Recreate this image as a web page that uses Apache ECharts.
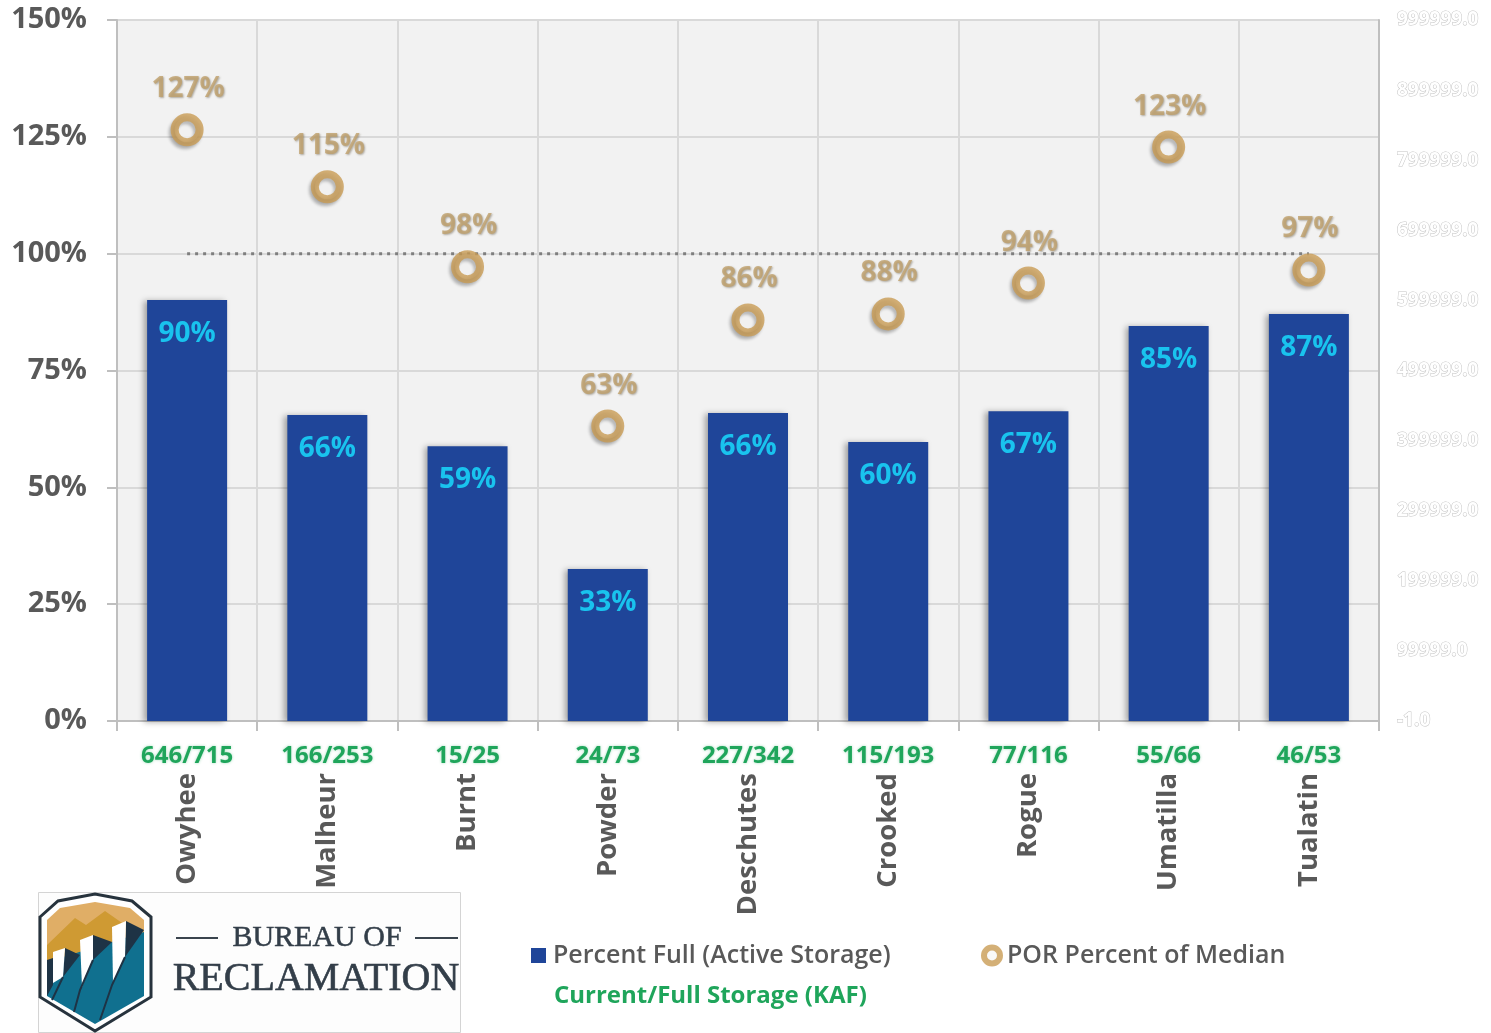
<!DOCTYPE html>
<html>
<head>
<meta charset="utf-8">
<title>Reservoir storage</title>
<script src="https://cdn.jsdelivr.net/npm/echarts@6/dist/echarts.min.js"></script>
<style>
  html, body { margin: 0; padding: 0; background: #fff; }
  #chart { width: 1491px; height: 1033px; }
</style>
</head>
<body>
<div id="chart"></div>
<script>
// basins and the storage figures under them
var basins = ['Owyhee', 'Malheur', 'Burnt', 'Powder', 'Deschutes', 'Crooked', 'Rogue', 'Umatilla', 'Tualatin'];
var storage = ['646/715', '166/253', '15/25', '24/73', '227/342', '115/193', '77/116', '55/66', '46/53'];

// bar heights and point positions, labels as printed
var percentFull = [90.1, 65.5, 58.8, 32.5, 65.9, 59.7, 66.3, 84.5, 87.1];
var percentFullLabels = ['90%', '66%', '59%', '33%', '66%', '60%', '67%', '85%', '87%'];
var porMedian = [126.5, 114.3, 97.2, 63.1, 85.8, 87.1, 93.7, 122.8, 96.5];
var porMedianLabels = ['127%', '115%', '98%', '63%', '86%', '88%', '94%', '123%', '97%'];
var medianLine = [100, 100, 100, 100, 100, 100, 100, 100, 100];

// the faint right axis prints these, bottom to top
var rightTicks = ['-1.0', '99999.0', '199999.0', '299999.0', '399999.0', '499999.0', '599999.0', '699999.0', '799999.0', '899999.0', '999999.0'];

var FONT = '"Open Sans", "Noto Sans", sans-serif';
var GREY = '#595959';
var GOLD = '#c99c55';

var myChart = echarts.init(document.getElementById('chart'));

function poly(points, fill, z) {
  return { type: 'polygon', z: z || 10, shape: { points: points }, style: { fill: fill } };
}
function stroke(points, color, width) {
  return { type: 'polyline', z: 14, shape: { points: points }, style: { stroke: color, lineWidth: width, fill: null } };
}

// logo in the lower left corner
var logo = [
  { type: 'rect', z: 9, shape: { x: 38.5, y: 892.5, width: 422, height: 140 }, style: { fill: '#fdfdfd', stroke: '#d4d4d4', lineWidth: 1 } },
  { type: 'polygon', z: 10, shape: { points: [[40, 917], [58, 901], [95, 894], [132, 901], [151, 917], [151, 997], [95, 1031], [40, 997]] },
    style: { fill: '#fff', stroke: '#27333d', lineWidth: 3 } },
  poly([[47, 920], [60, 908], [95, 902], [130, 908], [144, 920], [144, 945], [47, 965]], '#e0ae66'),
  poly([[47, 945], [75, 918], [86, 925], [105, 911], [125, 925], [125, 940], [47, 965]], '#cf9a33', 11),
  poly([[47, 962], [144, 932], [144, 996], [95, 1024], [47, 996]], '#10708f', 11),
  poly([[47, 960], [53, 958], [53, 985], [47, 996]], '#1e3345', 12),
  poly([[65, 948], [80, 955], [63, 977]], '#1e3345', 12),
  poly([[93, 935], [112, 942], [93, 960]], '#1e3345', 12),
  poly([[126, 921], [144, 930], [125, 957]], '#1e3345', 12),
  poly([[53, 952], [65, 948], [63, 977], [53, 983]], '#fff', 13),
  poly([[80, 940], [93, 935], [93, 960], [82, 987]], '#fff', 13),
  poly([[112, 927], [126, 921], [125, 957], [113, 983]], '#fff', 13),
  stroke([[63, 977], [52, 1000]], '#1e3345', 2),
  stroke([[93, 960], [80, 990], [74, 1012]], '#1e3345', 2),
  stroke([[125, 957], [112, 985], [100, 1020]], '#1e3345', 2),
  stroke([[176, 938], [218, 938]], '#3a444e', 2),
  stroke([[415, 938], [458, 938]], '#3a444e', 2),
  { type: 'text', z: 14, style: { x: 317, y: 938, text: 'BUREAU OF', align: 'center', verticalAlign: 'middle',
      font: '30px "Liberation Serif"', fill: '#333e49', stroke: '#333e49', lineWidth: 0.5 } },
  { type: 'text', z: 14, style: { x: 316, y: 979, text: 'RECLAMATION', align: 'center', verticalAlign: 'middle',
      font: '40px "Liberation Serif"', fill: '#333e49', stroke: '#333e49', lineWidth: 0.6 } },
  { type: 'text', z: 14, style: { x: 554, y: 996, text: 'Current/Full Storage (KAF)', align: 'left', verticalAlign: 'middle',
      font: 'bold 24px ' + FONT, fill: '#1fa55b' } }
];

var option = {
  animation: false,
  backgroundColor: '#fff',
  grid: { left: 117, top: 20, width: 1262, height: 701, show: true, backgroundColor: '#f2f2f2', borderWidth: 0 },
  legend: [
    {
      left: 526, top: 938, itemWidth: 15, itemHeight: 15, itemGap: 8,
      data: [{ name: 'Percent Full (Active Storage)', icon: 'rect' }],
      textStyle: { color: GREY, fontFamily: FONT, fontSize: 25, fontWeight: 600, padding: [0, 0, 0, 2] }
    },
    {
      left: 976, top: 938, itemWidth: 16, itemHeight: 16, itemGap: 2,
      data: [{ name: 'POR Percent of Median', icon: 'circle', itemStyle: { color: '#f7f7f7', borderColor: GOLD, borderWidth: 6 } }],
      textStyle: { color: GREY, fontFamily: FONT, fontSize: 25, fontWeight: 600, padding: [0, 0, 0, 2] }
    }
  ],
  xAxis: [
    {
      type: 'category',
      data: basins,
      axisLine: { lineStyle: { color: '#bfbfbf', width: 2 } },
      axisTick: { show: true, alignWithLabel: false, length: 10, lineStyle: { color: '#bfbfbf', width: 2 } },
      splitLine: { show: true, lineStyle: { color: '#d9d9d9', width: 2 } },
      axisLabel: { interval: 0, rotate: 90, margin: 52, padding: [0, 0, 6, 0], color: GREY, fontFamily: FONT, fontSize: 27.5, fontWeight: 'bold' }
    },
    {
      // green storage figures sit between the axis and the rotated names
      type: 'category',
      position: 'bottom',
      data: storage,
      axisLine: { show: false },
      axisTick: { show: false },
      axisLabel: {
        interval: 0, margin: 23, color: '#1fa55b', fontFamily: FONT, fontSize: 24, fontWeight: 'bold',
        textShadowColor: 'rgba(31,165,91,0.4)', textShadowBlur: 3
      }
    }
  ],
  yAxis: [
    {
      type: 'value',
      min: 0,
      max: 150,
      interval: 25,
      axisLine: { show: true, lineStyle: { color: '#bfbfbf', width: 2 } },
      axisTick: { show: true, length: 10, lineStyle: { color: '#bfbfbf', width: 2 } },
      splitLine: { show: true, lineStyle: { color: '#d9d9d9', width: 2 } },
      axisLabel: { margin: 30, padding: [10, 0, 0, 0], color: GREY, fontFamily: FONT, fontSize: 29, fontWeight: 'bold', formatter: '{value}%' }
    },
    {
      type: 'value',
      position: 'right',
      min: 0,
      max: 1000000,
      interval: 100000,
      axisLine: { show: true, lineStyle: { color: '#bfbfbf', width: 2 } },
      axisTick: { show: false },
      splitLine: { show: false },
      axisLabel: {
        margin: 18, padding: [10, 0, 0, 0], color: '#fff', fontFamily: FONT, fontSize: 19, fontWeight: 'bold',
        textBorderColor: '#c4c4c4', textBorderWidth: 1,
        formatter: function (value) { return rightTicks[Math.round(value / 100000)]; }
      }
    }
  ],
  series: [
    {
      name: 'Percent Full (Active Storage)',
      type: 'bar',
      data: percentFull,
      barWidth: 80,
      itemStyle: { color: '#1f4599', shadowColor: 'rgba(0,0,0,0.35)', shadowBlur: 6, shadowOffsetX: -3, shadowOffsetY: 1 },
      label: {
        show: true, position: 'insideTop', distance: 20,
        color: '#19c3ee', fontFamily: FONT, fontSize: 28, fontWeight: 'bold',
        formatter: function (p) { return percentFullLabels[p.dataIndex]; }
      }
    },
    {
      name: 'Median line',
      type: 'line',
      data: medianLine,
      symbol: 'none',
      silent: true,
      lineStyle: { color: '#7f7f7f', width: 3, type: [3, 5] }
    },
    {
      name: 'POR Percent of Median',
      type: 'scatter',
      data: porMedian,
      symbol: 'circle',
      symbolSize: 25,
      z: 5,
      itemStyle: {
        color: '#fff', borderColor: GOLD, borderWidth: 8,
        shadowColor: 'rgba(0,0,0,0.3)', shadowBlur: 3, shadowOffsetX: -2, shadowOffsetY: 3
      },
      label: {
        show: true, position: 'top', distance: 10, offset: [1, 0],
        color: '#bfa06b', fontFamily: FONT, fontSize: 28, fontWeight: 'bold',
        textShadowColor: 'rgba(90,80,60,0.55)', textShadowBlur: 2, textShadowOffsetX: 1, textShadowOffsetY: 1,
        formatter: function (p) { return porMedianLabels[p.dataIndex]; }
      }
    }
  ],
  graphic: logo
};

myChart.setOption(option);
</script>
</body>
</html>
